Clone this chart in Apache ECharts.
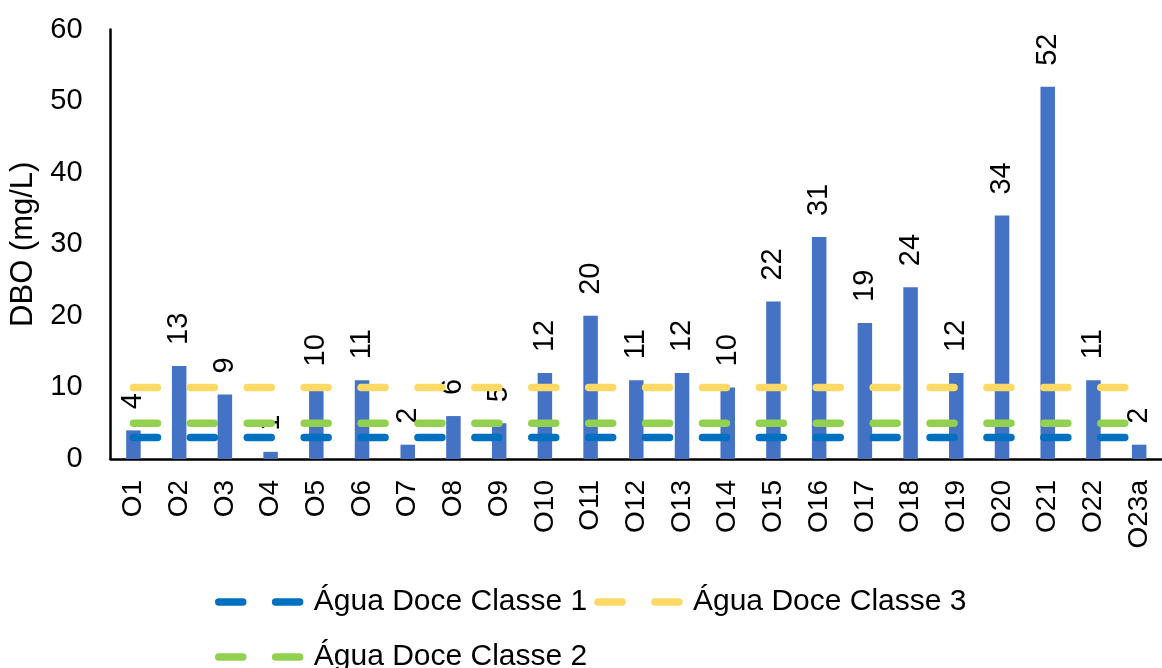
<!DOCTYPE html>
<html>
<head>
<meta charset="utf-8">
<script src="https://cdn.jsdelivr.net/npm/echarts@6/dist/echarts.min.js"></script>
<style>
html,body{margin:0;padding:0;background:#fff;}
#chart{width:1162px;height:668px;}
</style>
</head>
<body>
<div id="chart"></div>
<script>
var categories = ['O1','O2','O3','O4','O5','O6','O7','O8','O9','O10','O11','O12','O13','O14','O15','O16','O17','O18','O19','O20','O21','O22','O23a'];
var dboValues = [4,13,9,1,10,11,2,6,5,12,20,11,12,10,22,31,19,24,12,34,52,11,2];
var classe1 = [3,3,3,3,3,3,3,3,3,3,3,3,3,3,3,3,3,3,3,3,3,3,3];
var classe2 = [5,5,5,5,5,5,5,5,5,5,5,5,5,5,5,5,5,5,5,5,5,5,5];
var classe3 = [10,10,10,10,10,10,10,10,10,10,10,10,10,10,10,10,10,10,10,10,10,10,10];
var yTicks = [0,10,20,30,40,50,60];
var legendRow1 = ['Água Doce Classe 1','Água Doce Classe 3'];
var legendRow2 = ['Água Doce Classe 2'];

var FONT = '"Liberation Sans", Arial, sans-serif';
var dash = [24, 32.9];

function lineSeries(name, data, color) {
  return {
    name: name,
    type: 'line',
    data: data,
    symbol: 'none',
    silent: true,
    lineStyle: { color: color, width: 7.5, type: dash, cap: 'round' },
    itemStyle: { color: color },
    z: 3
  };
}

function legendBox(names, top) {
  return {
    data: names,
    left: 215,
    top: top,
    orient: 'horizontal',
    itemWidth: 90,
    itemHeight: 20,
    itemGap: 7,
    padding: 0,
    textStyle: { fontSize: 30, color: '#000', fontFamily: FONT },
    itemStyle: { opacity: 0 },
    lineStyle: { width: 7.5, type: dash, cap: 'round', opacity: 1 }
  };
}

var chart = echarts.init(document.getElementById('chart'), null, {renderer: 'canvas'});
chart.setOption({
  animation: false,
  backgroundColor: '#ffffff',
  textStyle: { fontFamily: FONT },
  grid: { left: 110.6, top: 29.5, right: -13.5, bottom: 209, containLabel: false },
  legend: [legendBox(legendRow1, 587), legendBox(legendRow2, 642)],
  xAxis: {
    type: 'category',
    data: categories,
    axisLine: { show: true, lineStyle: { color: '#000', width: 2.5 } },
    axisTick: { show: false },
    axisLabel: { rotate: 90, margin: 21, fontSize: 28, color: '#000', fontFamily: FONT, interval: 0 },
    splitLine: { show: false }
  },
  yAxis: {
    type: 'value',
    min: yTicks[0],
    max: yTicks[yTicks.length - 1],
    interval: 10,
    name: 'DBO (mg/L)',
    nameLocation: 'middle',
    nameGap: 66,
    nameTextStyle: { fontSize: 31, color: '#000', fontFamily: FONT },
    axisLine: { show: true, lineStyle: { color: '#000', width: 2.5 } },
    axisTick: { show: false },
    axisLabel: { margin: 28, fontSize: 29, color: '#000', fontFamily: FONT },
    splitLine: { show: false }
  },
  series: [
    {
      name: 'DBO',
      type: 'bar',
      data: dboValues,
      barWidth: 14.5,
      itemStyle: { color: '#4472C4' },
      label: {
        show: true,
        position: 'top',
        rotate: 90,
        align: 'left',
        verticalAlign: 'middle',
        distance: 21,
        fontSize: 29,
        color: '#000',
        fontFamily: FONT
      },
      z: 2
    },
    lineSeries(legendRow1[0], classe1, '#0070C0'),
    lineSeries(legendRow2[0], classe2, '#92D050'),
    lineSeries(legendRow1[1], classe3, '#FFD966')
  ]
});
</script>
</body>
</html>
